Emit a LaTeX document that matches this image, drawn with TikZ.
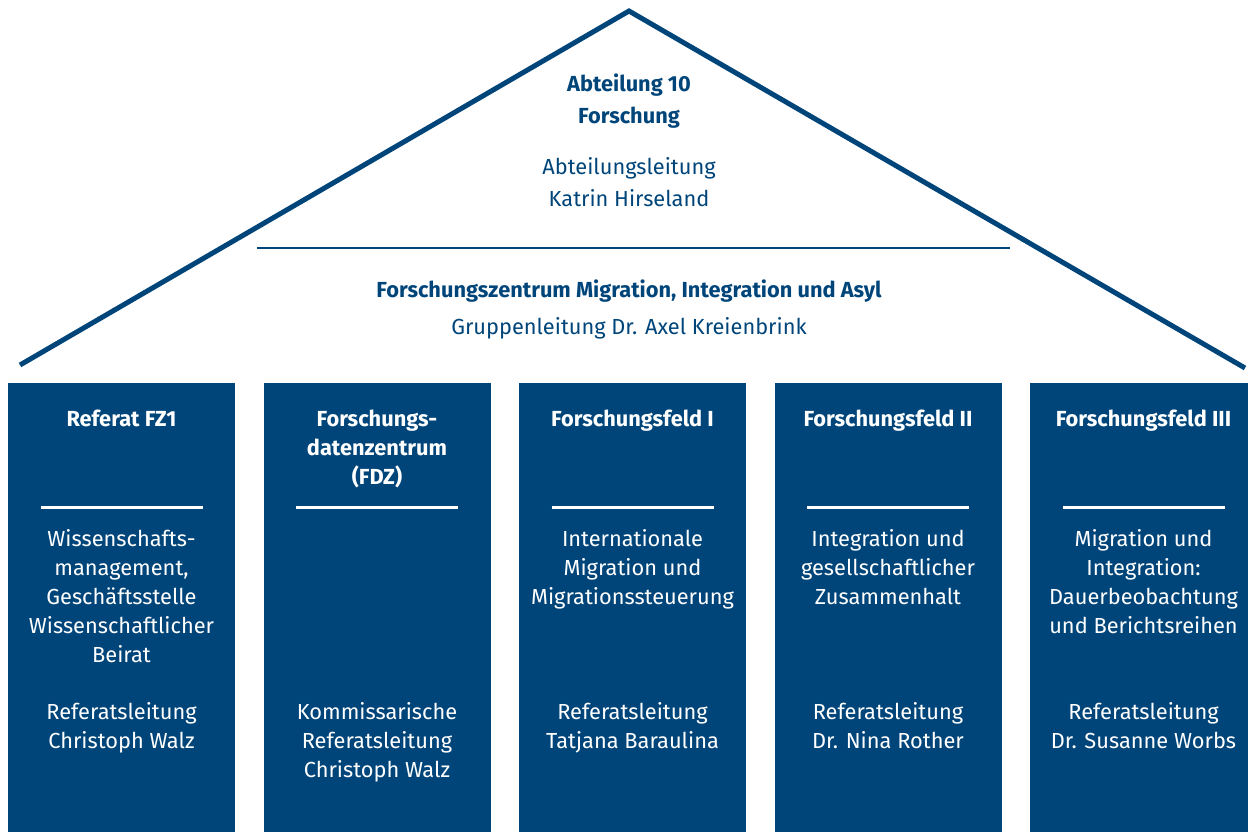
\documentclass[tikz,border=0pt]{standalone}
\usepackage{fontspec}
\setmainfont{Fira Sans}
\usetikzlibrary{positioning}
\definecolor{bamfblue}{RGB}{0,69,122}

\begin{document}
\begin{tikzpicture}[x=0.5pt, y=-0.5pt,
		every node/.style={inner sep=0pt, outer sep=0pt, align=center, font=\fontsize{10.9}{14.5}\selectfont},
		roof/.style={draw=bamfblue, line width=2.5pt, line join=miter},
		roofrule/.style={draw=bamfblue, line width=1pt},
		rooftext/.style={text=bamfblue, font=\fontsize{10.9}{16.4}\selectfont},
		pillar/.style={fill=bamfblue, anchor=north west, minimum width=113.5pt, minimum height=224.5pt},
		pillartext/.style={text=white, anchor=north},
		rule/.style={draw=white, line width=1.5pt}]
	\clip (0,0) rectangle (1248,832);
	% roof
	\coordinate (eaveL) at (20,365);
	\coordinate (apex) at (629,11);
	\coordinate (eaveR) at (1245,368);
	\draw [roof] (eaveL) -- (apex) -- (eaveR);
	\coordinate (ruleL) at (257,248);
	\coordinate (ruleR) at (1010,248);
	\draw [roofrule] (ruleL) -- (ruleR);
	\node (dept) [rooftext, anchor=north] at (629,73.5) {\bfseries Abteilung 10\\\bfseries Forschung};
	\node (deptlead) [rooftext, anchor=north] at (629,157) {Abteilungsleitung\\Katrin Hirseland};
	\node (fzmia) [rooftext, anchor=north] at (629,279.5) {\bfseries Forschungszentrum Migration, Integration und Asyl};
	\node (grplead) [rooftext, anchor=north] at (629,317.5) {Gruppenleitung Dr. Axel Kreienbrink};

	% pillars
	\node (fz1) [pillar] at (8,383) {};
	\node (fdz) [pillar, right=14.25pt of fz1] {};
	\node (ff1) [pillar, right=14.25pt of fdz] {};
	\node (ff2) [pillar, right=14.25pt of ff1] {};
	\node (ff3) [pillar, right=14.25pt of ff2] {};
	\foreach \p in {fz1,fdz,ff1,ff2,ff3}
		\draw [rule] ([xshift=-40.5pt, yshift=-62.25pt]\p.north) -- ([xshift=40.5pt, yshift=-62.25pt]\p.north);

	\node (fz1title) [pillartext, below=13.25pt of fz1.north] {\bfseries Referat FZ1};
	\node (fz1task) [pillartext, below=73.25pt of fz1.north] {Wissenschafts-\\management,\\Geschäftsstelle\\Wissenschaftlicher\\Beirat};
	\node (fz1lead) [pillartext, below=159.75pt of fz1.north] {Referatsleitung\\Christoph Walz};

	\node (fdztitle) [pillartext, below=13.25pt of fdz.north] {\bfseries Forschungs-\\\bfseries datenzentrum\\\bfseries (FDZ)};
	\node (fdzlead) [pillartext, below=159.75pt of fdz.north] {Kommissarische\\Referatsleitung\\Christoph Walz};

	\node (ff1title) [pillartext, below=13.25pt of ff1.north] {\bfseries Forschungsfeld I};
	\node (ff1task) [pillartext, below=73.25pt of ff1.north] {Internationale\\Migration und\\Migrationssteuerung};
	\node (ff1lead) [pillartext, below=159.75pt of ff1.north] {Referatsleitung\\Tatjana Baraulina};

	\node (ff2title) [pillartext, below=13.25pt of ff2.north] {\bfseries Forschungsfeld II};
	\node (ff2task) [pillartext, below=73.25pt of ff2.north] {Integration und\\gesellschaftlicher\\Zusammenhalt};
	\node (ff2lead) [pillartext, below=159.75pt of ff2.north] {Referatsleitung\\Dr. Nina Rother};

	\node (ff3title) [pillartext, below=13.25pt of ff3.north] {\bfseries Forschungsfeld III};
	\node (ff3task) [pillartext, below=73.25pt of ff3.north] {Migration und\\Integration:\\Dauerbeobachtung\\und Berichtsreihen};
	\node (ff3lead) [pillartext, below=159.75pt of ff3.north] {Referatsleitung\\Dr. Susanne Worbs};
\end{tikzpicture}
\end{document}
